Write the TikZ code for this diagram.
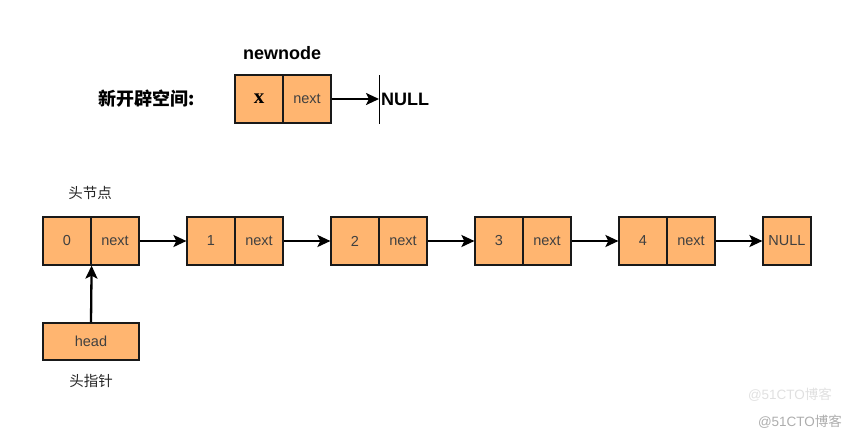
\documentclass[tikz,border=0pt]{standalone}
\usepackage{fontspec}
\setmainfont{Liberation Sans}
\newfontfamily\cjk{Noto Sans CJK SC}
\newfontfamily\serifx{Liberation Serif}
\usetikzlibrary{arrows.meta}
\definecolor{cellfill}{HTML}{FFB570}
\begin{document}
\begin{tikzpicture}[x=1pt,y=-1pt,
  cell/.style={draw=black!90, line width=1.2pt, fill=cellfill, minimum width=48pt, minimum height=48pt, inner sep=0pt, font=\fontsize{14.5}{16}\selectfont, text=black!75},
  link/.style={line width=2.3pt, -{Stealth[length=13pt,width=12pt,inset=3pt]}},
  lbl/.style={inner sep=0pt, font=\fontsize{18}{20}\selectfont\bfseries},
  cjkcap/.style={inner sep=0pt, font=\cjk\fontsize{14.5}{16}\selectfont, text=black!85},
  wm/.style={inner sep=0pt, font=\fontsize{13.5}{15}\selectfont}]
\useasboundingbox (0,0) rectangle (853,440);
% top: new node
\node[lbl] (title) at (282,53) {newnode};
\node[lbl, font=\cjk\fontsize{18}{20}\selectfont\bfseries] (space) at (147,99) {新开辟空间:};
\node[cell] (x) at (259,99) {\serifx\bfseries\fontsize{21}{22}\selectfont\color{black}x};
\node[cell] (xn) at (307,99) {next};
\coordinate (bar) at (379,99);
\draw[line width=1pt] (379,75) -- (379,124);
\draw[link] (xn.east) -- (bar);
\node[lbl, anchor=west] (topnull) at (381,99) {NULL};
% bottom list
\foreach \i in {0,...,4} {
  \node[cell] (v\i) at ({67+144*\i},241) {\i};
  \node[cell] (n\i) at ({115+144*\i},241) {next};
}
\node[cell] (nullb) at (787,241) {NULL};
\foreach \i/\j in {0/1,1/2,2/3,3/4} {
  \draw[link] (n\i.east) -- (v\j.west);
}
\draw[link] (n4.east) -- (nullb.west);
% head pointer
\node[cell, minimum width=96pt, minimum height=37pt] (head) at (91,341.5) {head};
\draw[link] (head.north) -- (v0.south east);
\node[cjkcap] (hn) at (90,193) {头节点};
\node[cjkcap] (hp) at (91,381) {头指针};
% watermarks
\node[wm, text=black!12] (wm1) at (790,395) {@51CTO\cjk 博客};
\node[wm, text=black!32] (wm2) at (800,422) {@51CTO\cjk 博客};
\end{tikzpicture}
\end{document}
